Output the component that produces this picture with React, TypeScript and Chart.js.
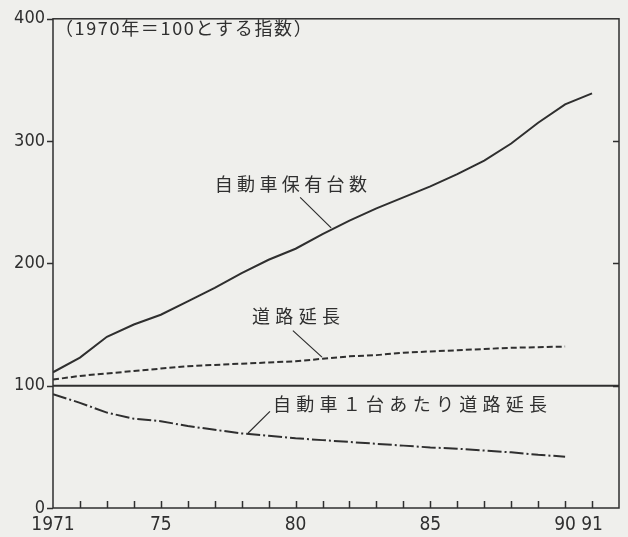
import React, { useEffect, useRef } from "react";
import { Chart, registerables } from "chart.js";

Chart.register(...registerables);

// ---- data ----
const years = [1971, 1972, 1973, 1974, 1975, 1976, 1977, 1978, 1979, 1980, 1981, 1982, 1983, 1984, 1985, 1986, 1987, 1988, 1989, 1990, 1991];
const carOwnership = [111, 123, 140, 150, 158, 169, 180, 192, 203, 212, 224, 235, 245, 254, 263, 273, 284, 298, 315, 330, 339];
const roadLength = [105, 108, 110, 112, 114, 116, 117, 118, 119, 120, 122, 124, 125, 127, 128, 129, 130, 131, 131.5, 132];
const roadPerCar = [93, 86, 78, 73, 71, 67, 64, 61, 59, 57, 55.5, 54, 52.5, 51, 49.5, 48.5, 47, 45.5, 43.5, 42];
const baseIndex = 100;

const tickYears = [1971, 1975, 1980, 1985, 1990, 1991];
const tickLabels = ["1971", "75", "80", "85", "90", "91"];
const yTicks = [0, 100, 200, 300, 400];

const xMin = 1971;
const xMax = 1992;
const yMin = 0;
const yMax = 400;

const noteText = "（1970年＝100とする指数）";
const labelCars = "自動車保有台数";
const labelRoad = "道路延長";
const labelPerCar = "自動車１台あたり道路延長";

const INK = "#2f2f2f";
const BG = "#efefec";
const CJK = '"Noto Sans CJK JP", "Noto Sans", sans-serif';
const NUM = '"Liberation Sans Narrow", "DejaVu Sans Condensed", "Liberation Sans", sans-serif';

function pts(vals: number[]) {
  return vals.map((v, i) => ({ x: years[i], y: v }));
}

function drawSpread(ctx: CanvasRenderingContext2D, text: string, x0: number, x1: number, yc: number, font: string) {
  ctx.save();
  ctx.font = font;
  ctx.fillStyle = INK;
  ctx.textBaseline = "middle";
  ctx.textAlign = "left";
  const chars = Array.from(text);
  const widths = chars.map((c) => ctx.measureText(c).width);
  const total = widths.reduce((a, b) => a + b, 0);
  const gap = chars.length > 1 ? (x1 - x0 - total) / (chars.length - 1) : 0;
  let x = x0;
  chars.forEach((c, i) => {
    ctx.fillText(c, x, yc);
    x += widths[i] + gap;
  });
  ctx.restore();
}

const decorPlugin = {
  id: "decor",
  beforeDraw(chart: any) {
    const ctx = chart.ctx;
    ctx.save();
    ctx.fillStyle = BG;
    ctx.fillRect(0, 0, chart.width, chart.height);
    ctx.restore();
  },
  afterDatasetsDraw(chart: any) {
    const ctx: CanvasRenderingContext2D = chart.ctx;
    const xs = chart.scales.x;
    const ys = chart.scales.y;
    const { left, right, top, bottom } = chart.chartArea;
    ctx.save();
    ctx.setLineDash([]);
    ctx.strokeStyle = INK;
    ctx.lineWidth = 1.5;
    ctx.strokeRect(left, top, right - left, bottom - top);
    ctx.lineWidth = 1.5;
    ctx.beginPath();
    // x ticks (inward)
    for (let yr = xMin + 1; yr < xMax; yr++) {
      const px = Math.round(xs.getPixelForValue(yr)) + 0.5;
      ctx.moveTo(px, bottom);
      ctx.lineTo(px, bottom - 7);
    }
    // y ticks
    yTicks.forEach((v) => {
      const py = Math.round(ys.getPixelForValue(v)) + 0.5;
      ctx.moveTo(left, py);
      ctx.lineTo(left - 6, py);
      if (v > yMin && v < yMax) {
        ctx.moveTo(right, py);
        ctx.lineTo(right - 6, py);
      }
    });
    ctx.stroke();

    const X = (v: number) => xs.getPixelForValue(v);
    const Y = (v: number) => ys.getPixelForValue(v);

    // annotations
    drawSpread(ctx, noteText, X(1971.07), X(1980.6), Y(392.7), `18px ${CJK}`);
    drawSpread(ctx, labelCars, X(1977.0), X(1982.65), Y(264.5), `18px ${CJK}`);
    drawSpread(ctx, labelRoad, X(1978.38), X(1981.65), Y(156.5), `18px ${CJK}`);
    drawSpread(ctx, labelPerCar, X(1979.16), X(1989.33), Y(84.7), `18px ${CJK}`);

    // leader lines
    ctx.lineWidth = 1.2;
    ctx.beginPath();
    ctx.moveTo(X(1980.17), Y(254));
    ctx.lineTo(X(1981.32), Y(229));
    ctx.moveTo(X(1979.9), Y(145));
    ctx.lineTo(X(1980.98), Y(123.4));
    ctx.moveTo(X(1979.05), Y(79));
    ctx.lineTo(X(1978.24), Y(61.3));
    ctx.stroke();
    ctx.restore();
  },
};

export default function App() {
  const ref = useRef<HTMLCanvasElement | null>(null);
  useEffect(() => {
    if (!ref.current) return;
    const chart = new Chart(ref.current, {
      type: "line",
      data: {
        datasets: [
          {
            label: labelCars,
            data: pts(carOwnership),
            borderColor: INK,
            borderWidth: 2,
            pointRadius: 0,
            tension: 0,
          },
          {
            label: labelRoad,
            data: pts(roadLength),
            borderColor: INK,
            borderWidth: 2,
            borderDash: [6, 3],
            pointRadius: 0,
            tension: 0,
          },
          {
            label: labelPerCar,
            data: pts(roadPerCar),
            borderColor: INK,
            borderWidth: 2,
            borderDash: [14, 3, 2, 3],
            pointRadius: 0,
            tension: 0,
          },
          {
            label: "base",
            data: [
              { x: xMin, y: baseIndex },
              { x: xMax, y: baseIndex },
            ],
            borderColor: INK,
            borderWidth: 2,
            pointRadius: 0,
          },
        ],
      },
      options: {
        animation: false,
        responsive: false,
        devicePixelRatio: 1,
        layout: { padding: { left: 0, right: 9, top: 12, bottom: 0 } },
        plugins: { legend: { display: false }, tooltip: { enabled: false } },
        scales: {
          x: {
            type: "linear",
            min: xMin,
            max: xMax,
            grid: { display: false, drawTicks: false },
            border: { display: false },
            afterBuildTicks: (axis: any) => {
              axis.ticks = tickYears.map((v) => ({ value: v }));
            },
            afterFit: (axis: any) => {
              axis.height = 29;
            },
            ticks: {
              autoSkip: false,
              maxRotation: 0,
              padding: 6,
              color: INK,
              font: { family: NUM, size: 19 },
              callback: (v: any) => {
                const i = tickYears.indexOf(Number(v));
                return i >= 0 ? tickLabels[i] : "";
              },
            },
          },
          y: {
            min: yMin,
            max: yMax,
            grid: { display: false, drawTicks: false },
            border: { display: false },
            afterBuildTicks: (axis: any) => {
              axis.ticks = yTicks.map((v) => ({ value: v }));
            },
            afterFit: (axis: any) => {
              axis.width = 53;
            },
            ticks: {
              padding: 8,
              color: INK,
              font: { family: NUM, size: 18 },
            },
          },
        },
      },
      plugins: [decorPlugin],
    } as any);
    return () => chart.destroy();
  }, []);
  return (
    <div style={{ position: "absolute", left: 0, top: 0, width: 628, height: 537, background: BG }}>
      <canvas ref={ref} width={628} height={537} style={{ display: "block" }} />
    </div>
  );
}
